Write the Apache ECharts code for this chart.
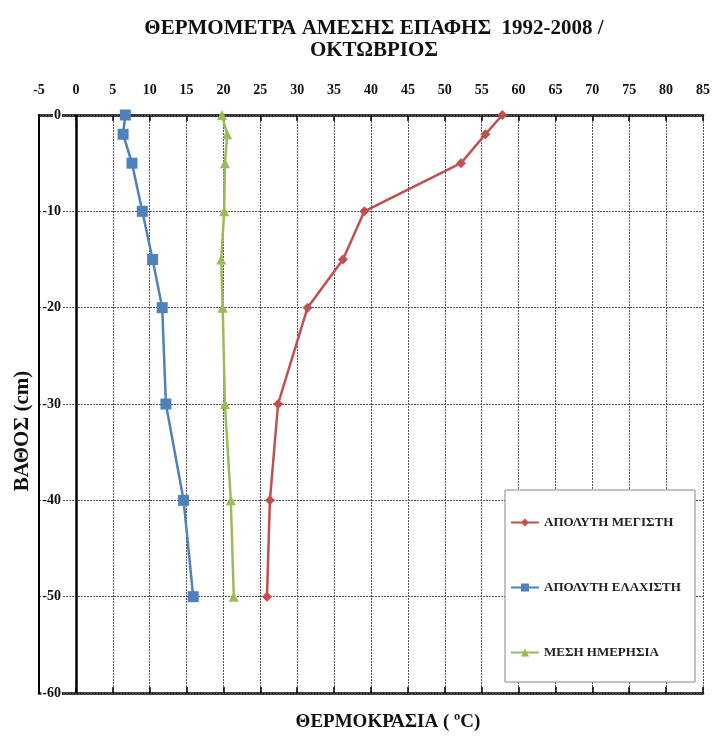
<!DOCTYPE html>
<html>
<head>
<meta charset="utf-8">
<script src="https://cdn.jsdelivr.net/npm/echarts@6/dist/echarts.min.js"></script>
<style>html,body{margin:0;padding:0;background:#fff}#c{width:713px;height:740px}</style>
</head>
<body>
<div id="c"></div>
<script>
var depths = [0, -2, -5, -10, -15, -20, -30, -40, -50];
var maxTemp = [57.8, 55.5, 52.2, 39.1, 36.2, 31.4, 27.4, 26.3, 25.9];
var minTemp = [6.7, 6.4, 7.6, 9.0, 10.4, 11.7, 12.2, 14.6, 15.9];
var meanTemp = [19.8, 20.5, 20.2, 20.1, 19.7, 19.9, 20.2, 21.0, 21.4];
var seriesNames = ['ΑΠΟΛΥΤΗ ΜΕΓΙΣΤΗ', 'ΑΠΟΛΥΤΗ ΕΛΑΧΙΣΤΗ', 'ΜΕΣΗ ΗΜΕΡΗΣΙΑ'];
var titleText = 'ΘΕΡΜΟΜΕΤΡΑ ΑΜΕΣΗΣ ΕΠΑΦΗΣ  1992-2008 /\nΟΚΤΩΒΡΙΟΣ';
var xName = 'ΘΕΡΜΟΚΡΑΣΙΑ ( ºC)';
var yName = 'ΒΑΘΟΣ (cm)';

function pairs(vals) { return vals.map(function (v, i) { return [v, depths[i]]; }); }

var FONT = 'Liberation Serif';
var chart = echarts.init(document.getElementById('c'));
var grid = { left: 39, right: 8, top: 115, bottom: 47 };
var split = { show: true, lineStyle: { color: '#555', type: [2, 1], width: 1 } };

chart.setOption({
  animation: false,
  backgroundColor: '#fff',
  title: {
    text: titleText, left: 369, top: 13, textAlign: 'center',
    textStyle: { fontFamily: FONT, fontWeight: 'bold', fontSize: 21, lineHeight: 22, color: '#111' }
  },
  grid: grid,
  xAxis: [{
    type: 'value', position: 'top', min: -5, max: 85, interval: 5,
    axisLine: { show: true, onZero: false, lineStyle: { color: '#000', width: 2.5 } },
    axisTick: { show: true, inside: true, length: 6, lineStyle: { color: '#000', width: 1.5 } },
    axisLabel: { margin: 18, fontFamily: FONT, fontWeight: 'bold', fontSize: 14, color: '#111' },
    splitLine: split
  }, {
    type: 'value', position: 'bottom', min: -5, max: 85, interval: 5,
    axisLine: { show: true, onZero: false, lineStyle: { color: '#000', width: 2.5 } },
    axisTick: { show: true, inside: true, length: 6, lineStyle: { color: '#000', width: 1.5 } },
    axisLabel: { show: false }, splitLine: { show: false }
  }],
  yAxis: {
    type: 'value', min: -60, max: 0, interval: 10, z: 3,
    axisLine: { show: true, onZero: false, lineStyle: { color: '#000', width: 2 } },
    axisTick: { show: false },
    axisLabel: { inside: true, align: 'right', margin: 23, fontFamily: FONT, fontWeight: 'bold', fontSize: 14,
      color: '#111', backgroundColor: '#fff', padding: [0, 1] },
    splitLine: split
  },
  legend: {
    orient: 'vertical', left: 510, top: 516, padding: 0, itemGap: 52,
    itemWidth: 28, itemHeight: 10, z: 10,
    textStyle: { fontFamily: FONT, fontSize: 13, fontWeight: 'bold', color: '#222' },
    data: seriesNames
  },
  graphic: [
    { type: 'rect', z: 8, shape: { x: 505, y: 490, width: 190, height: 192 },
      style: { fill: '#fff', stroke: '#888', lineWidth: 1 } },
    { type: 'text', z: 8, x: 388, y: 722,
      style: { text: xName, fill: '#111', font: 'bold 19px "Liberation Serif"', textAlign: 'center', textVerticalAlign: 'middle' } },
    { type: 'text', z: 8, x: 23, y: 431, rotation: Math.PI / 2,
      style: { text: yName, fill: '#111', font: 'bold 21px "Liberation Serif"', textAlign: 'center', textVerticalAlign: 'middle' } }
  ],
  series: [{
    name: seriesNames[0], type: 'line', z: 4, data: pairs(maxTemp),
    symbol: 'diamond', symbolSize: 10,
    itemStyle: { color: '#C0504D' }, lineStyle: { color: '#C0504D', width: 2.5 },
    markLine: {
      silent: true, symbol: 'none', label: { show: false },
      lineStyle: { color: '#000', type: 'solid', width: 2.5 },
      data: [{ xAxis: 0 }]
    }
  }, {
    name: seriesNames[1], type: 'line', z: 4, data: pairs(minTemp),
    symbol: 'rect', symbolSize: 11,
    itemStyle: { color: '#4F81BD' }, lineStyle: { color: '#4F81BD', width: 2.5 }
  }, {
    name: seriesNames[2], type: 'line', z: 4, data: pairs(meanTemp),
    symbol: 'triangle', symbolSize: 10,
    itemStyle: { color: '#9BBB59' }, lineStyle: { color: '#9BBB59', width: 2.5 }
  }]
});
</script>
</body>
</html>
